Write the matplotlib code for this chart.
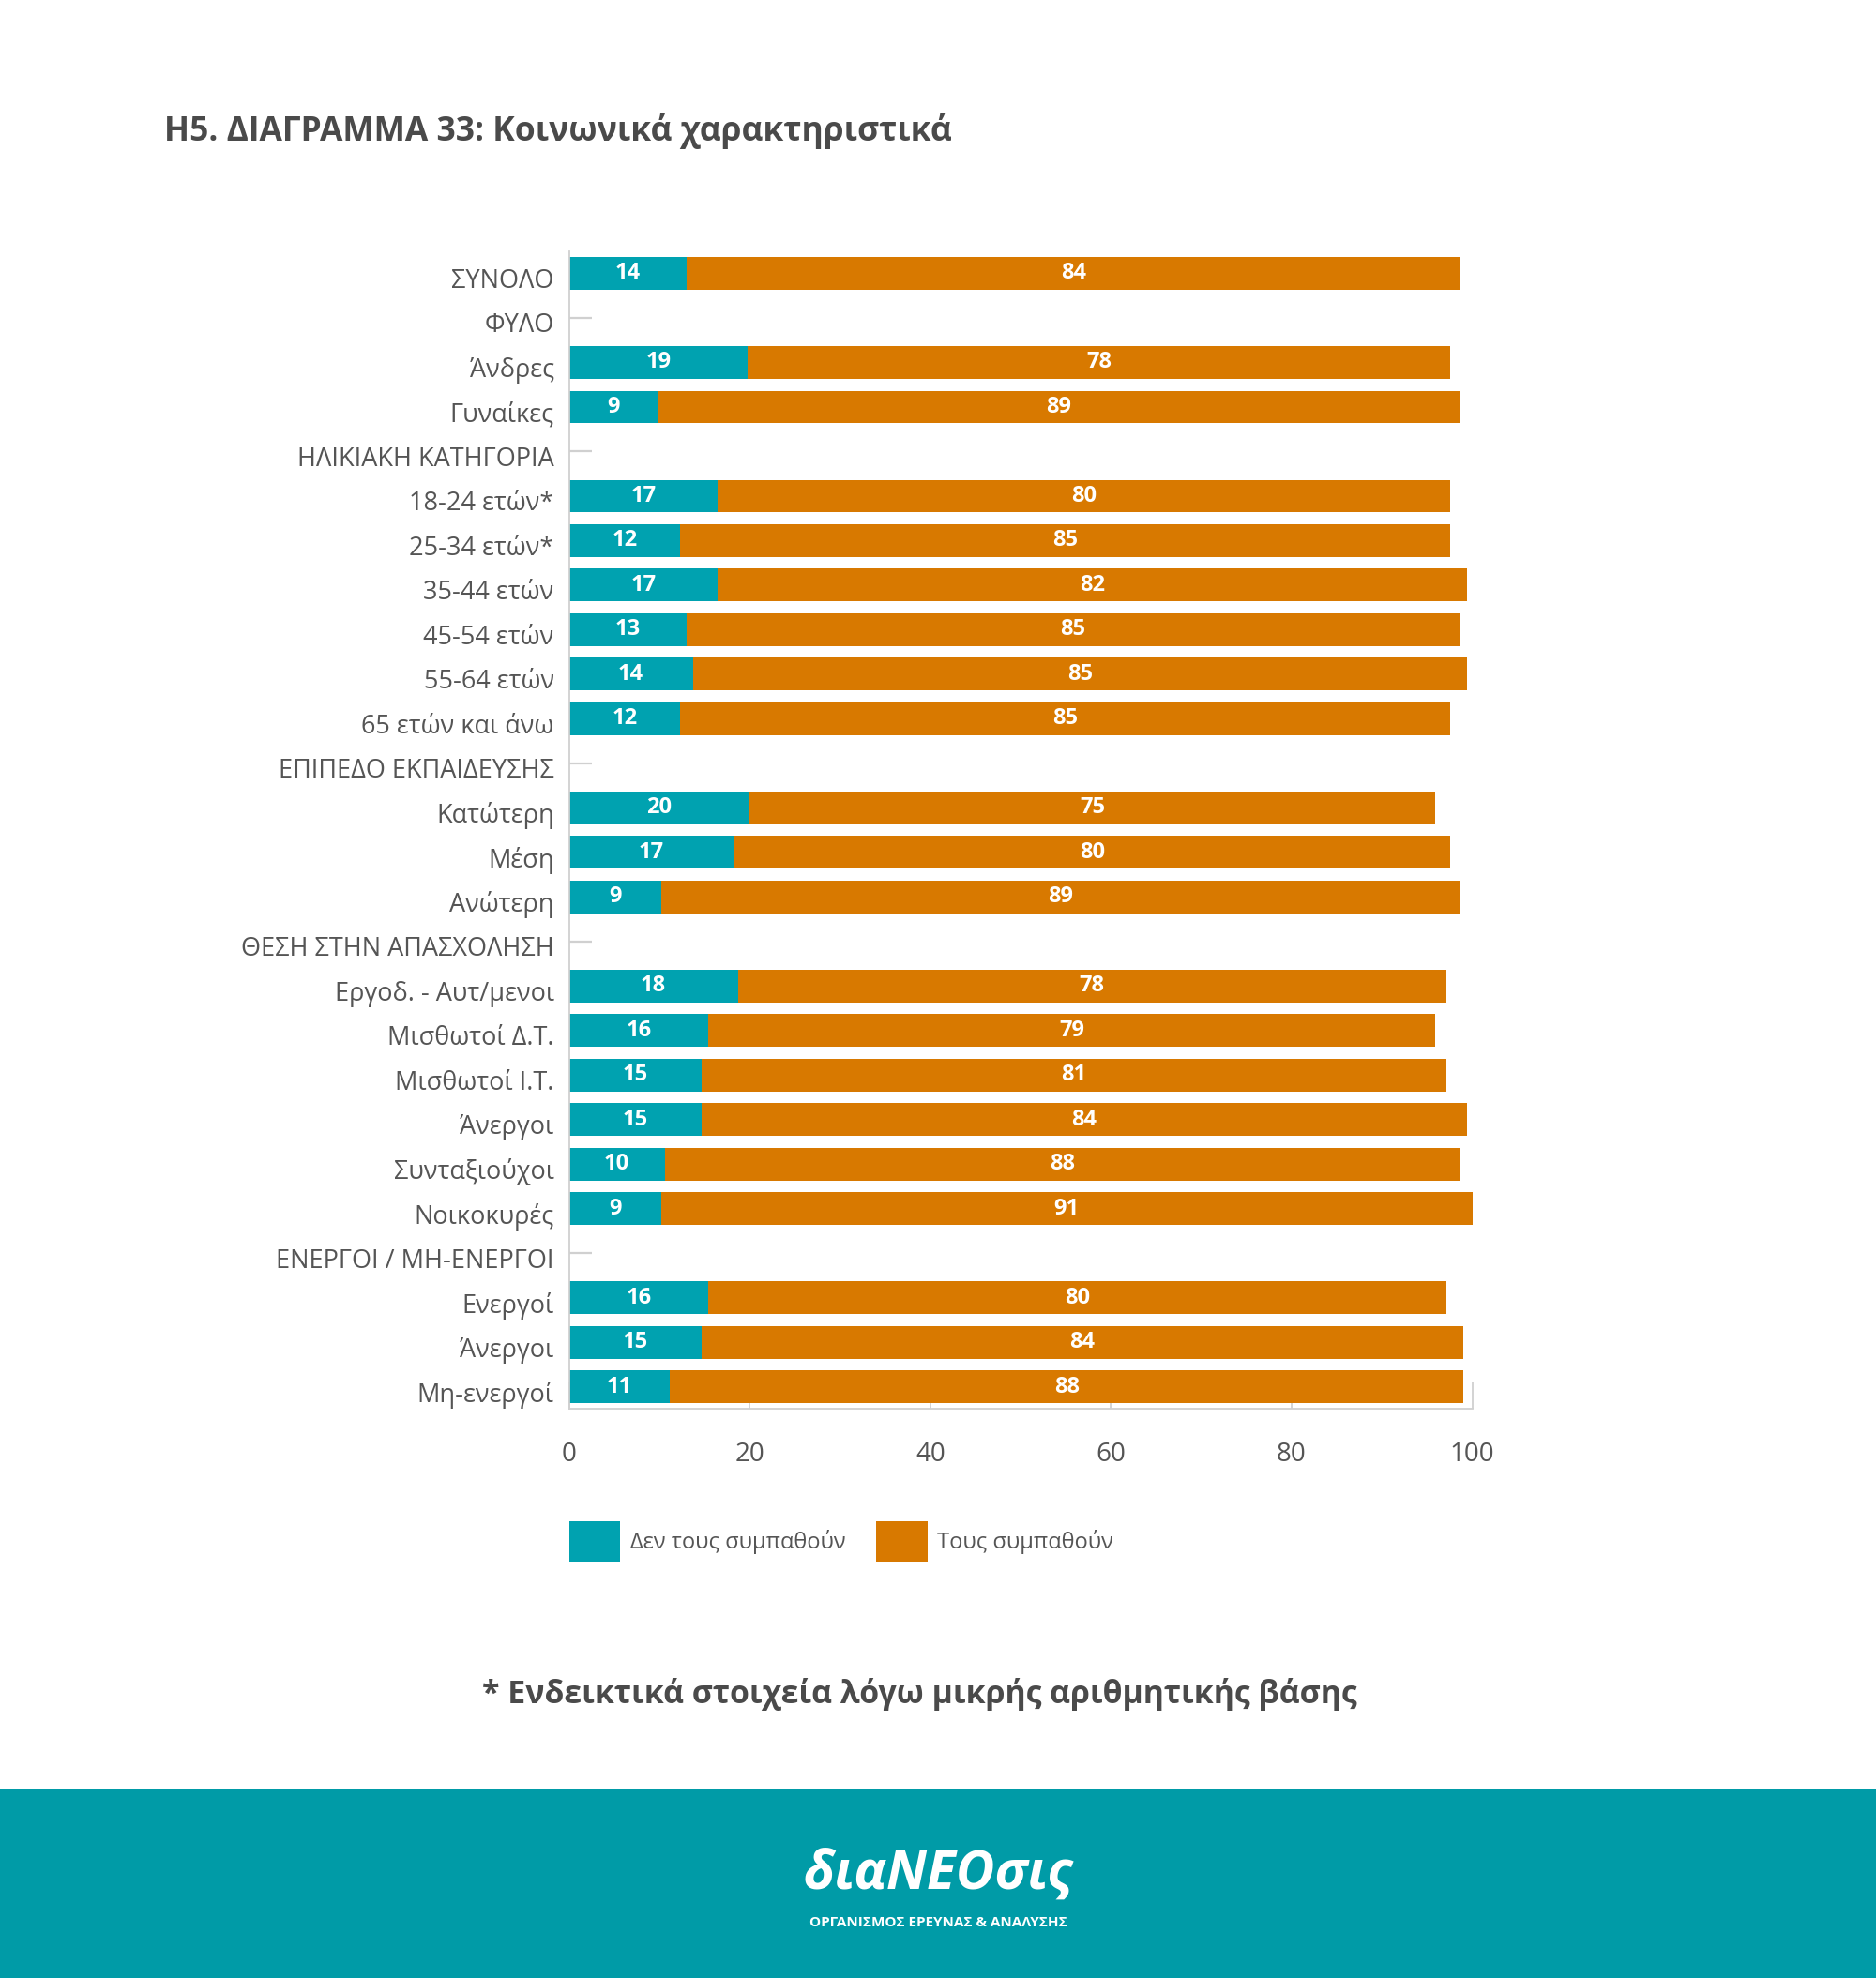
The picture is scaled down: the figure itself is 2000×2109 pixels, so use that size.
import numpy as np
import matplotlib.pyplot as plt
from matplotlib.patches import Patch, Rectangle
from matplotlib.transforms import ScaledTranslation

plt.rcParams["font.family"] = ["Open Sans", "DejaVu Sans"]

nan = np.nan

categories = [
    "ΣΥΝΟΛΟ", "ΦΥΛΟ", "Άνδρες", "Γυναίκες", "ΗΛΙΚΙΑΚΗ ΚΑΤΗΓΟΡΙΑ",
    "18-24 ετών*", "25-34 ετών*", "35-44 ετών", "45-54 ετών", "55-64 ετών",
    "65 ετών και άνω", "ΕΠΙΠΕΔΟ ΕΚΠΑΙΔΕΥΣΗΣ", "Κατώτερη", "Μέση", "Ανώτερη",
    "ΘΕΣΗ ΣΤΗΝ ΑΠΑΣΧΟΛΗΣΗ", "Εργοδ. - Αυτ/μενοι", "Μισθωτοί Δ.Τ.",
    "Μισθωτοί Ι.Τ.", "Άνεργοι", "Συνταξιούχοι", "Νοικοκυρές",
    "ΕΝΕΡΓΟΙ / ΜΗ-ΕΝΕΡΓΟΙ", "Ενεργοί", "Άνεργοι", "Μη-ενεργοί",
]

# printed values (labels inside the bars)
dislike_label = [14, nan, 19, 9, nan, 17, 12, 17, 13, 14, 12, nan, 20, 17, 9,
                 nan, 18, 16, 15, 15, 10, 9, nan, 16, 15, 11]
like_label = [84, nan, 78, 89, nan, 80, 85, 82, 85, 85, 85, nan, 75, 80, 89,
              nan, 78, 79, 81, 84, 88, 91, nan, 80, 84, 88]

# bar lengths as drawn in the original chart
dislike_bar = [13.0, nan, 19.8, 9.8, nan, 16.5, 12.3, 16.5, 13.0, 13.7, 12.3,
               nan, 20.0, 18.2, 10.2, nan, 18.7, 15.4, 14.7, 14.7, 10.6, 10.2,
               nan, 15.4, 14.7, 11.2]
like_bar = [85.7, nan, 77.8, 88.8, nan, 81.1, 85.3, 82.9, 85.6, 85.7, 85.3,
            nan, 75.9, 79.4, 88.4, nan, 78.4, 80.5, 82.4, 84.7, 88.0, 89.8,
            nan, 81.7, 84.3, 87.8]

series_names = ["Δεν τους συμπαθούν", "Τους συμπαθούν"]

TEAL = "#00A2B0"
ORANGE = "#D87900"
GREY_TXT = "#555555"
GRID = "#d0d0d0"

fig = plt.figure(figsize=(20, 21.09), dpi=100)
ax = fig.add_axes([0.3033, 0.2876, 0.4815, 0.5855])

y = np.arange(len(categories))
d = np.array(dislike_bar)
l = np.array(like_bar)
ax.barh(y, d, height=0.73, color=TEAL)
ax.barh(y, l, left=d, height=0.73, color=ORANGE)

for i in range(len(categories)):
    if np.isnan(d[i]):
        continue
    ax.text(d[i] / 2, i, f"{dislike_label[i]:.0f}", ha="center", va="center",
            color="white", fontsize=17, fontweight="bold")
    ax.text(d[i] + l[i] / 2, i, f"{like_label[i]:.0f}", ha="center", va="center",
            color="white", fontsize=17, fontweight="bold")

ax.set_ylim(len(categories) - 0.5, -0.5)
ax.set_xlim(0, 100)
ax.set_axisbelow(True)

ax.set_yticks(y)
ax.set_yticklabels(categories)
ax.tick_params(axis="y", which="major", length=0, pad=11.5,
               labelsize=19.5, labelcolor=GREY_TXT)
# short inward marks next to the group headings
header_rows = [i for i in y if np.isnan(d[i])]
ax.yaxis.remove_overlapping_locs = False
ax.set_yticks(header_rows, minor=True)
ax.tick_params(axis="y", which="minor", direction="in", length=17,
               width=1.6, color=GRID, left=True)
shift = ScaledTranslation(0, -0.05, fig.dpi_scale_trans)
for lbl in ax.get_yticklabels():
    lbl.set_transform(lbl.get_transform() + shift)

ax.set_xticks(np.arange(0, 101, 20))
ax.tick_params(axis="x", direction="in", length=20, width=1.3, color=GRID,
               pad=25, labelsize=20, labelcolor=GREY_TXT)

for side in ["top", "right"]:
    ax.spines[side].set_visible(False)
for side in ["left", "bottom"]:
    ax.spines[side].set_color(GRID)
    ax.spines[side].set_linewidth(1.3)

handles = [Patch(facecolor=TEAL, label=series_names[0]),
           Patch(facecolor=ORANGE, label=series_names[1])]
fig.legend(handles=handles, loc="center left", bbox_to_anchor=(0.3033, 0.2207),
           ncol=2, frameon=False, fontsize=17, handlelength=2.3,
           handleheight=2.4, handletextpad=0.45, columnspacing=1.4,
           borderpad=0, borderaxespad=0, labelcolor=GREY_TXT)

fig.text(0.0875, 0.9336, "Η5. ΔΙΑΓΡΑΜΜΑ 33: Κοινωνικά χαρακτηριστικά",
         fontsize=25.5, fontweight="bold", color="#4a4a4a", ha="left", va="center")
fig.text(0.49, 0.1436, "* Ενδεικτικά στοιχεία λόγω μικρής αριθμητικής βάσης",
         fontsize=24.4, fontweight="bold", color="#4a4a4a", ha="center", va="center")

# footer band with logo
fig.add_artist(Rectangle((0, 0), 1, 0.0958, transform=fig.transFigure,
                         facecolor="#009BA7", edgecolor="none", zorder=0))
fig.text(0.5, 0.0525, "διαΝΕΟσις", fontsize=41, fontweight="bold",
         style="italic", color="white", ha="center", va="center")
fig.text(0.5, 0.028, "ΟΡΓΑΝΙΣΜΟΣ ΕΡΕΥΝΑΣ & ΑΝΑΛΥΣΗΣ", fontsize=11,
         fontweight="bold", color="white", ha="center", va="center")

fig.savefig("out.png", dpi=100)
